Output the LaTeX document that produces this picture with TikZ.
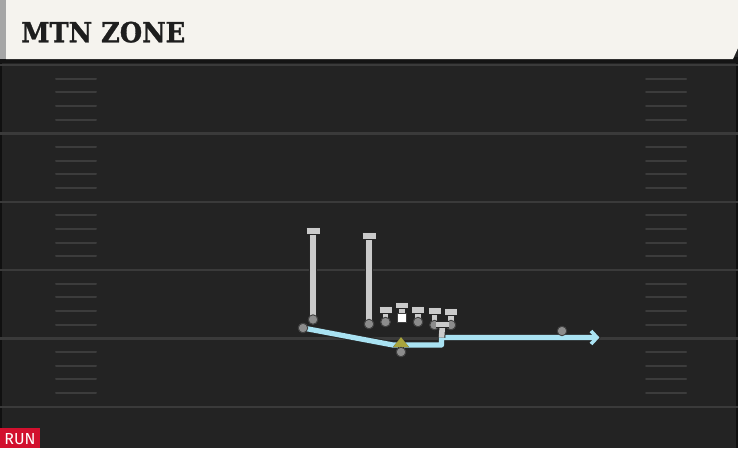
\documentclass[tikz,border=0pt]{standalone}
\usepackage{fontspec}
\setmainfont{DejaVu Serif}
\newfontfamily\titlefont[FakeBold=1.2]{DejaVu Serif Bold}
\newfontfamily\runfont{Fira Sans}
\usetikzlibrary{arrows.meta}
\definecolor{cream}{HTML}{F5F3EE}
\definecolor{fieldbg}{HTML}{232323}
\definecolor{yardln}{HTML}{3A3A3A}
\definecolor{hashln}{HTML}{3C3C3C}
\definecolor{barcol}{HTML}{CACACA}
\definecolor{dotcol}{HTML}{8C8C8C}
\definecolor{routecol}{HTML}{A9E2F2}
\definecolor{qbcol}{HTML}{A8A43C}
\definecolor{runred}{HTML}{D2102E}
\definecolor{titlecol}{HTML}{1E1E1E}
\tikzset{
  yardline/.style={draw=yardln, line width=2.4pt},
  hashmark/.style={draw=hashln, line width=2pt, line cap=round},
  pdot/.style={circle, fill=dotcol, draw=black!75, line width=0.9pt, inner sep=0pt, minimum size=9.5pt},
  psquare/.style={rectangle, fill=white, draw=black!75, line width=0.9pt, inner sep=0pt, minimum size=9.5pt},
  barline/.style={draw=barcol, line width=5.6pt, preaction={draw=black!85, line width=7.6pt}},
  routeout/.style={draw=black!85, line width=7.2pt, line join=round},
  routein/.style={draw=routecol, line width=5.2pt, line join=round},
  chevron/.style={draw=routecol, line width=3.6pt, line join=miter, preaction={draw=black!85, line width=5.4pt}},
}
\begin{document}
\begin{tikzpicture}[x=1pt,y=-1pt]
\useasboundingbox (0,0) rectangle (738,448);
% field
\fill[fieldbg] (0,0) rectangle (738,448);
\draw[draw=black!55!fieldbg, line width=2pt] (1,62) -- (1,448);
\draw[draw=black!55!fieldbg, line width=2pt] (737,62) -- (737,448);
% yard lines
\foreach \y in {65,133.3,201.7,270,338.3,406.7}{
  \draw[yardline] (0,\y) -- (738,\y);
}
% hash marks
\foreach \y in {65,133.3,201.7,270,338.3}{
  \foreach \k in {1,2,3,4}{
    \draw[hashmark] (56,{\y+\k*13.67}) -- (96,{\y+\k*13.67});
    \draw[hashmark] (646,{\y+\k*13.67}) -- (686,{\y+\k*13.67});
  }
}
% header
\fill[black!92] (0,57) rectangle (738,63);
\fill[black!35] (0,0) rectangle (6,59);
\fill[cream] (6,0) -- (738,0) -- (738,48) -- (733,59) -- (6,59) -- cycle;
\node[anchor=base west, inner sep=0pt, text=titlecol] (title) at (21,42.3)
  {\resizebox{164pt}{20.6pt}{\titlefont MTN ZONE}};
% RUN label
\fill[runred] (0,428) rectangle (40,448);
\node[anchor=base, inner sep=0pt, text=white] (runlbl) at (20,444.3)
  {\resizebox{!}{11pt}{\runfont RUN}};
% players
\node[pdot] (rb) at (303,328) {};
\node[pdot] (wr1) at (313,319.5) {};
\node[pdot] (wr2) at (369,324) {};
\node[pdot] (lt) at (385.5,322) {};
\node[psquare] (c) at (402,318) {};
\node[pdot] (rg) at (418,322) {};
\node[pdot] (rt) at (434.5,325) {};
\node[pdot] (te) at (451,325) {};
\node[pdot] (qb) at (401,352) {};
% block coordinates
\coordinate (wr1t) at (313,231);
\coordinate (wr2t) at (369,236);
\coordinate (ltt) at (385.5,310);
\coordinate (ct) at (402,305.5);
\coordinate (rgt) at (418,310);
\coordinate (rtt) at (434.5,311);
\coordinate (tet) at (451,312);
% route coordinates
\coordinate (r1) at (393,345);
\coordinate (r2) at (441.5,345);
\coordinate (r3) at (441.5,337.5);
\coordinate (rend) at (597,337.5);
\coordinate (chA) at (591,331);
\coordinate (chB) at (591,344);
\coordinate (blk) at (442.5,324.5);
% route
\draw[routeout] (rb.center) -- (r1) -- (r2) -- (r3) -- (rend);
\draw[chevron] (chA) -- (rend) -- (chB);
\draw[routein] (rb.center) -- (r1) -- (r2) -- (r3) -- ([xshift=-1pt]rend);
\node[pdot] at (rb) {};
\node[pdot] (wr3) at (562,331) {};
% blocks
\foreach \p/\t/\w in {wr1/wr1t/6.5, wr2/wr2t/6.5, lt/ltt/6, c/ct/6, rg/rgt/6, rt/rtt/6, te/tet/6}{
  \draw[barline] (\p.center) -- (\t);
  \draw[barline] ([xshift=-\w pt]\t) -- ([xshift=\w pt]\t);
}
\node[pdot] at (wr1) {};
\node[pdot] at (wr2) {};
\node[pdot] at (lt) {};
\node[psquare] at (c) {};
\node[pdot] at (rg) {};
\node[pdot] at (rt) {};
\node[pdot] at (te) {};
\draw[barline] (r3) -- (blk);
\draw[barline] ([xshift=-6.5pt]blk) -- ([xshift=6.5pt]blk);
% QB handoff arrow
\draw[draw=qbcol, line width=4.5pt, preaction={draw=black!85, line width=6pt}, -{Triangle[length=10pt,width=15pt]}] (qb.center) -- ++(0,-15);
\node[pdot] at (qb) {};
\end{tikzpicture}
\end{document}
